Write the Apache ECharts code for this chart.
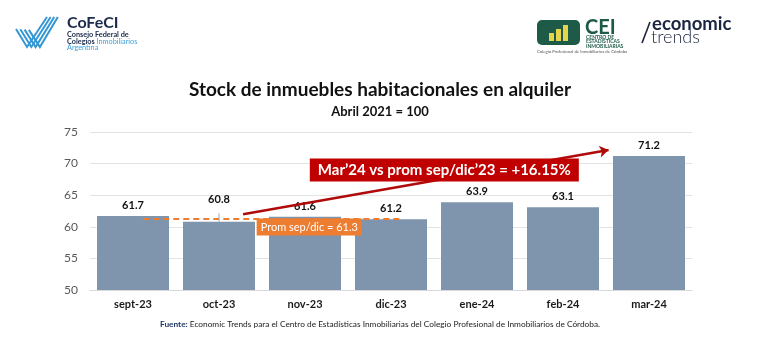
<!DOCTYPE html>
<html>
<head>
<meta charset="utf-8">
<script src="https://cdn.jsdelivr.net/npm/echarts@6/dist/echarts.min.js"></script>
<style>
  html, body { margin: 0; padding: 0; background: #fff; }
  #chart { width: 760px; height: 345px; }
</style>
</head>
<body>
<div id="chart"></div>
<script>
// Monthly rental-stock index (April 2021 = 100)
const months = ['sept-23', 'oct-23', 'nov-23', 'dic-23', 'ene-24', 'feb-24', 'mar-24'];
const stockIndex = [61.7, 60.8, 61.6, 61.2, 63.9, 63.1, 71.2];
const yTicks = { min: 50, max: 75, step: 5 };

// Sept–Dec 2023 average and the March 2024 comparison callout
const avgMonths = stockIndex.slice(0, 4);
const avgValue = avgMonths.reduce((a, b) => a + b, 0) / avgMonths.length;
const avgText = 'Prom sep/dic = ' + avgValue.toFixed(1);
const compareText = 'Mar\u201924 vs prom sep/dic\u201923 = +16.15%';

const FONT = 'Lato, "Open Sans", sans-serif';
const RED = '#C00000';
const ORANGE = '#ED7D31';
const chart = echarts.init(document.getElementById('chart'), null, { renderer: 'canvas' });

// the Oct label sits higher so it clears the average line
const barData = stockIndex.map((v, i) => (i === 1 ? { value: v, label: { distance: 17 } } : v));

// CoFeCI check-mark stripes
const stripes = [0, 1, 2, 3].map(i => ({
  type: 'polyline',
  shape: { points: [[16 + i * 4.3, 29 + i * 0.3], [27 + i * 4.3, 47], [47 + i * 3.6, 17]] },
  style: { stroke: '#3497D3', lineWidth: 2, fill: null }
}));

const ceiBars = [[549, 33, 5, 8], [556, 29, 5, 12], [563, 25, 5, 16]].map(r => ({
  type: 'rect',
  shape: { x: r[0], y: r[1], width: r[2], height: r[3] },
  style: { fill: '#E8D44A' }
}));

const brandGraphics = [
  {
    type: 'text', left: 'center', top: 80,
    style: { text: 'Stock de inmuebles habitacionales en alquiler', font: 'bold 19px ' + FONT, fill: '#111' }
  },
  {
    type: 'text', left: 'center', top: 105,
    style: { text: 'Abril 2021 = 100', font: 'bold 13px ' + FONT, fill: '#111' }
  },
  {
    type: 'text', left: 'center', top: 320,
    style: {
      text: '{b|Fuente:} Economic Trends para el Centro de Estadísticas Inmobiliarias del Colegio Profesional de Inmobiliarios de Córdoba.',
      font: '8.3px ' + FONT, fill: '#222',
      rich: { b: { fontWeight: 'bold', fontSize: 8.3, fill: '#1F3864', fontFamily: FONT } }
    }
  },
  // CoFeCI brand
  ...stripes,
  { type: 'text', x: 67, y: 15, style: { text: 'CoFeCI', font: 'bold 16px ' + FONT, fill: '#1B2B4B' } },
  { type: 'text', x: 67, y: 31.5, style: { text: 'Consejo Federal de', font: 'bold 7.3px ' + FONT, fill: '#1B2B4B' } },
  {
    type: 'text', x: 67, y: 38,
    style: {
      text: 'Colegios {l|Inmobiliarios}', font: 'bold 7.3px ' + FONT, fill: '#1B2B4B',
      rich: { l: { fill: '#3FA2DC', fontSize: 7.3, fontFamily: FONT } }
    }
  },
  { type: 'text', x: 67, y: 44.5, style: { text: 'Argentina', font: '7.3px ' + FONT, fill: '#3FA2DC' } },
  // CEI brand
  { type: 'rect', shape: { x: 537, y: 20, width: 43, height: 25, r: 5 }, style: { fill: '#1D5A48' } },
  ...ceiBars,
  { type: 'text', x: 585, y: 18, style: { text: 'CEI', font: 'bold 20px ' + FONT, fill: '#1D5A48' } },
  {
    type: 'text', x: 586, y: 35,
    style: { text: 'CENTRO DE\nESTADÍSTICAS\nINMOBILIARIAS', font: 'bold 5px ' + FONT, fill: '#1D5A48', lineHeight: 4.5 }
  },
  {
    type: 'text', x: 537, y: 50,
    style: { text: 'Colegio Profesional de Inmobiliarios de Córdoba', font: '4.3px ' + FONT, fill: '#555' }
  },
  // economic trends brand
  { type: 'line', shape: { x1: 650, y1: 22, x2: 642, y2: 43 }, style: { stroke: '#1B2440', lineWidth: 1.6 } },
  { type: 'text', x: 652, y: 15, style: { text: 'economic', font: 'bold 18.5px ' + FONT, fill: '#1B2440' } },
  { type: 'text', x: 651, y: 28, style: { text: 'trends', font: '300 18px ' + FONT, fill: '#1B2440' } }
];

chart.setOption({
  animation: false,
  textStyle: { fontFamily: FONT },
  grid: { left: 90, right: 68, top: 132, bottom: 55 },
  xAxis: [
    {
      type: 'category',
      data: months,
      axisTick: { show: false },
      axisLine: { lineStyle: { color: '#D9D9D9' } },
      axisLabel: { color: '#1a1a1a', fontWeight: 'bold', fontSize: 11, margin: 9, fontFamily: FONT }
    },
    { type: 'value', min: -0.5, max: 6.5, show: false }
  ],
  yAxis: {
    type: 'value',
    min: yTicks.min,
    max: yTicks.max,
    interval: yTicks.step,
    axisLine: { show: false },
    axisTick: { show: false },
    axisLabel: { color: '#595959', fontSize: 12, margin: 12, fontFamily: FONT },
    splitLine: { lineStyle: { color: '#E3E3E3', width: 1 } }
  },
  series: [
    {
      type: 'bar',
      data: barData,
      barWidth: 72,
      itemStyle: { color: '#7F95AE' },
      label: {
        show: true, position: 'top', distance: 5,
        color: '#111', fontWeight: 'bold', fontSize: 11, fontFamily: FONT,
        formatter: p => p.value.toFixed(1)
      },
      z: 2
    },
    {
      // average reference line across Sept–Dec
      type: 'lines',
      coordinateSystem: 'cartesian2d',
      xAxisIndex: 1,
      polyline: false,
      data: [{ coords: [[0.12, avgValue], [3.13, avgValue]] }],
      symbol: 'none',
      lineStyle: { color: ORANGE, width: 2.2, type: [6, 4], opacity: 1 },
      z: 3
    },
    {
      // trend arrow from the average to March 2024
      type: 'lines',
      coordinateSystem: 'cartesian2d',
      xAxisIndex: 1,
      data: [{ coords: [[1.28, 62.0], [5.53, 72.15]] }],
      symbol: ['none', 'arrow'],
      symbolSize: 9,
      lineStyle: { color: '#B00A0A', width: 2.5, opacity: 1 },
      z: 5
    }
  ],
  graphic: brandGraphics
});

// Callout boxes and the Oct leader line, placed in chart coordinates
const px = (x, y) => chart.convertToPixel({ xAxisIndex: 1, yAxisIndex: 0 }, [x, y]);
const avgBox = px(2.05, 59.95);
const cmpBox = px(3.62, 69.0);
const leadTop = px(1, stockIndex[1] + 1.35);
const leadBot = px(1, stockIndex[1]);

chart.setOption({
  graphic: brandGraphics.concat([
    {
      type: 'line', z: 10,
      shape: { x1: leadTop[0], y1: leadTop[1], x2: leadBot[0], y2: leadBot[1] },
      style: { stroke: '#A6A6A6', lineWidth: 1 }
    },
    {
      type: 'text', z: 10, x: avgBox[0], y: avgBox[1],
      style: {
        text: avgText, font: '11px ' + FONT, fill: '#fff',
        align: 'center', verticalAlign: 'middle',
        backgroundColor: ORANGE, padding: [3, 4, 3, 4]
      }
    },
    {
      type: 'text', z: 10, x: cmpBox[0], y: cmpBox[1],
      style: {
        text: compareText, font: 'bold 15px ' + FONT, fill: '#fff',
        align: 'center', verticalAlign: 'middle',
        backgroundColor: RED, padding: [4, 8, 4, 8]
      }
    }
  ])
}, { replaceMerge: ['graphic'] });
</script>
</body>
</html>
